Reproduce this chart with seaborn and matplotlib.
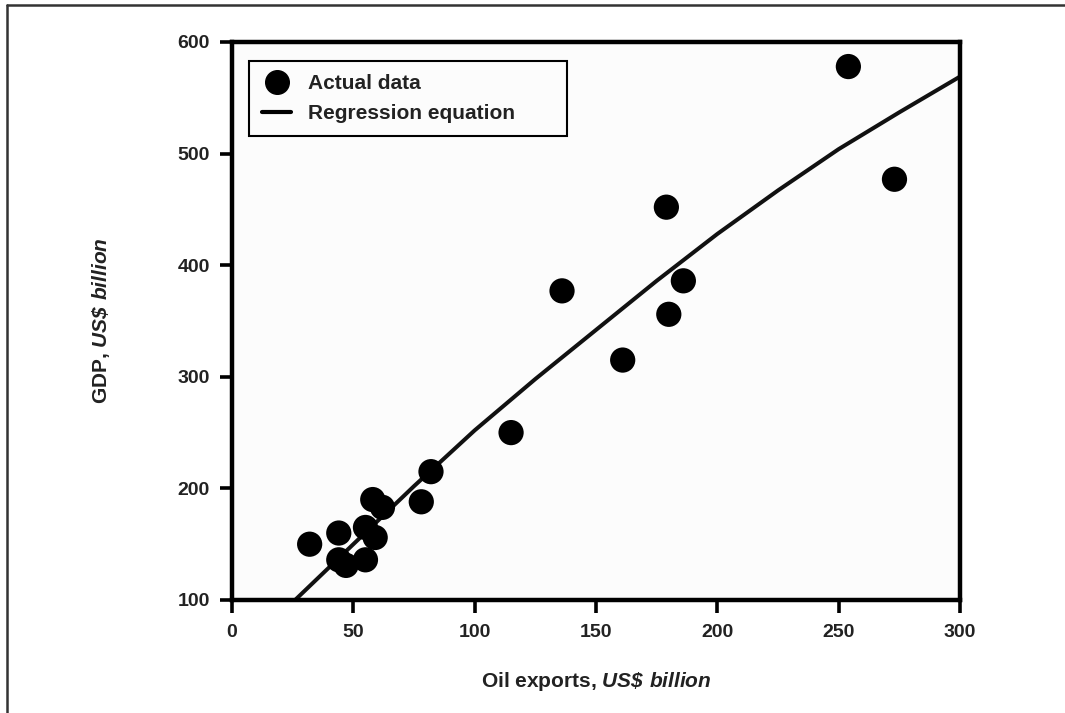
import numpy as np
import pandas as pd
import seaborn as sns
import matplotlib
matplotlib.use("Agg")
import matplotlib.pyplot as plt
from matplotlib.lines import Line2D

# Observed values (US$ billion)
oil_exports = [32, 44, 44, 47, 55, 55, 59, 58, 62, 78, 82, 115, 136, 161, 179, 180, 186, 254, 273]
gdp = [150, 160, 136, 131, 165, 136, 156, 190, 183, 188, 215, 250, 377, 315, 452, 356, 386, 578, 477]

# Fitted regression curve, sampled along the oil-export axis
reg_x = [26, 50, 75, 100, 125, 150, 175, 200, 225, 250, 275, 300]
reg_y = [100, 150, 202, 252, 298, 342, 386, 428, 467, 504, 537, 569]

x_ticks = [0, 50, 100, 150, 200, 250, 300]
y_ticks = [100, 200, 300, 400, 500, 600]

sns.set_theme(style="white")
plt.rcParams["font.family"] = ["Liberation Sans", "DejaVu Sans"]
plt.rcParams["mathtext.fontset"] = "custom"
plt.rcParams["mathtext.bfit"] = "Liberation Sans:italic:bold"
plt.rcParams["mathtext.bf"] = "Liberation Sans:bold"
plt.rcParams["mathtext.rm"] = "Liberation Sans:bold"

TEXT = "#222222"

obs = pd.DataFrame({"oil": oil_exports, "gdp": gdp})
reg = pd.DataFrame({"oil": reg_x, "gdp": reg_y})

fig = plt.figure(figsize=(10.65, 7.13), dpi=100)
ax = fig.add_axes([232 / 1065, 1 - 600 / 713, 728 / 1065, 558 / 713])
ax.set_facecolor("#fcfcfc")

sns.lineplot(data=reg, x="oil", y="gdp", ax=ax, color="#111111", linewidth=2.9,
             sort=True, zorder=2)
sns.scatterplot(data=obs, x="oil", y="gdp", ax=ax, color="black", s=330,
                edgecolor="none", zorder=3)

ax.set_xlim(0, 300)
ax.set_ylim(100, 600)
ax.set_xticks(x_ticks)
ax.set_yticks(y_ticks)
ax.set_xticklabels([str(t) for t in x_ticks], fontsize=14, fontweight="bold", color=TEXT)
ax.set_yticklabels([str(t) for t in y_ticks], fontsize=14, fontweight="bold", color=TEXT)
ax.tick_params(axis="both", which="major", direction="out", length=9, width=2.6,
               color="black", bottom=True, left=True)
ax.tick_params(axis="x", pad=8)
ax.tick_params(axis="y", pad=7)

for side in ["left", "bottom", "right", "top"]:
    ax.spines[side].set_visible(True)
    ax.spines[side].set_color("black")
    ax.spines[side].set_linewidth(3.2)

ax.set_xlabel(r"Oil exports, $\mathbfit{US\$\ billion}$", fontsize=15,
              fontweight="bold", color=TEXT)
ax.set_ylabel(r"GDP, $\mathbfit{US\$\ billion}$", fontsize=15,
              fontweight="bold", color=TEXT)
ax.xaxis.set_label_coords(0.5, -0.125)
ax.yaxis.set_label_coords(-0.165, 0.5)

handles = [
    Line2D([], [], marker="o", linestyle="", markersize=17, color="black"),
    Line2D([], [], color="black", linewidth=3),
]
leg_h = 78 / 558
leg_top = 539 / 558
leg = ax.legend(handles, ["Actual data", "Regression equation"],
                loc="upper left", bbox_to_anchor=(17 / 728, leg_top - leg_h, 318 / 728, leg_h),
                mode="expand", borderaxespad=0,
                frameon=True, fancybox=False, handlelength=1.4, handletextpad=0.8,
                borderpad=0.62, labelspacing=0.55,
                prop={"weight": "bold", "size": 15})
leg.get_frame().set_edgecolor("black")
leg.get_frame().set_linewidth(1.5)
leg.get_frame().set_facecolor("#fcfcfc")
leg.get_frame().set_alpha(1)
for t in leg.get_texts():
    t.set_color(TEXT)

# Outer frame along the top and left edges of the figure
fig.add_artist(Line2D([7 / 1065, 7 / 1065], [0, 1 - 5 / 713], transform=fig.transFigure,
                      color="#333333", linewidth=1.8))
fig.add_artist(Line2D([7 / 1065, 1], [1 - 5 / 713, 1 - 5 / 713], transform=fig.transFigure,
                      color="#333333", linewidth=1.8))

fig.savefig("out.png", dpi=100, facecolor="white")
